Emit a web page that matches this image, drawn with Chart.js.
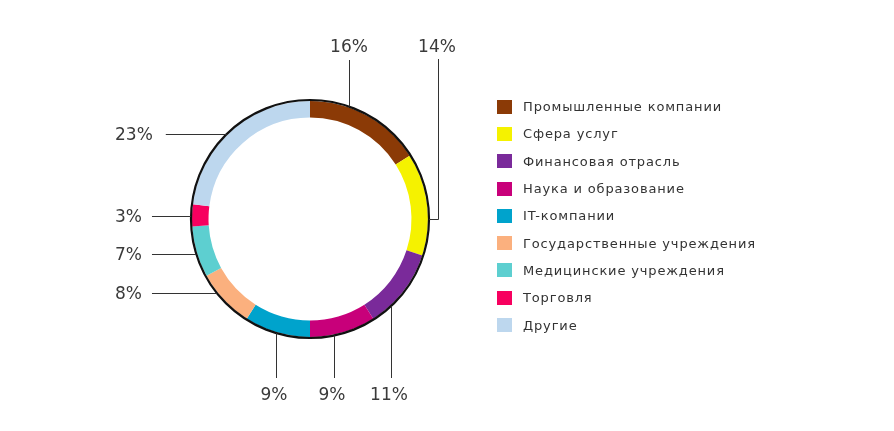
<!DOCTYPE html>
<html>
<head>
<meta charset="utf-8">
<script src="https://cdn.jsdelivr.net/npm/chart.js@4"></script>
<style>
  html, body { margin: 0; padding: 0; background: #fff; }
  #wrap { position: relative; width: 894px; height: 431px; }
  #legend { position: absolute; left: 497px; top: 93px; font-family: "DejaVu Sans", sans-serif; font-size: 13px; color: #333; letter-spacing: 0.85px; }
  #legend .item { height: 27.3px; display: flex; align-items: center; }
  #legend .box { width: 15px; height: 14px; margin-right: 11px; }
</style>
</head>
<body>
<div id="wrap">
  <canvas id="doughnutChart" width="894" height="431"></canvas>
  <div id="legend"></div>
</div>
<script>
    // Data
    var labels = ['Промышленные компании', 'Сфера услуг', 'Финансовая отрасль', 'Наука и образование',
      'IT-компании', 'Государственные учреждения', 'Медицинские учреждения', 'Торговля', 'Другие'];
    var values = [16, 14, 11, 9, 9, 8, 7, 3, 23];
    var colors = ['#8B3A06', '#F5F200', '#7A2A9A', '#C8007A', '#00A3CC', '#FBB07E', '#5DCFD0', '#F7005F', '#BDD7EE'];

    // where each percent label sits, relative to ring centre, and how its line runs
    var leaderLayout = [
      { dx: 39, dy: -171, dir: 'up' },
      { dx: 127, dy: -171, dir: 'elbow' },
      { dx: 79, dy: 177, dir: 'down' },
      { dx: 22, dy: 177, dir: 'down' },
      { dx: -36, dy: 177, dir: 'down' },
      { dx: -195, dy: 76, dir: 'left' },
      { dx: -195, dy: 37, dir: 'left' },
      { dx: -195, dy: -1, dir: 'left' },
      { dx: -195, dy: -83, dir: 'left' }
    ];

    var leaderPlugin = {
      id: 'leaders',
      afterDatasetsDraw: function (chart) {
        var ctx = chart.ctx;
        var arc = chart.getDatasetMeta(0).data[0];
        var cx = arc.x, cy = arc.y, R = arc.outerRadius + 1;
        ctx.save();
        // outer black rim
        ctx.beginPath();
        ctx.arc(cx, cy, R, 0, Math.PI * 2);
        ctx.lineWidth = 2.2;
        ctx.strokeStyle = '#111';
        ctx.stroke();

        ctx.font = '17px "DejaVu Sans"';
        ctx.fillStyle = '#3a3a3a';
        ctx.strokeStyle = '#333';
        ctx.lineWidth = 1;
        values.forEach(function (v, i) {
          var l = leaderLayout[i];
          var text = v + '%';
          var tx = cx + l.dx, ty = cy + l.dy;
          var w = ctx.measureText(text).width;
          ctx.textBaseline = 'middle';
          ctx.beginPath();
          if (l.dir === 'left') {
            ctx.textAlign = 'left';
            var ly = ty - 2;
            var ex = cx - Math.sqrt(R * R - (ly - cy) * (ly - cy));
            ctx.moveTo(tx + w + (i === 8 ? 13 : 10), ly + 0.5);
            ctx.lineTo(ex, ly + 0.5);
          } else if (l.dir === 'up') {
            ctx.textAlign = 'center';
            var ey = cy - Math.sqrt(R * R - (tx - cx) * (tx - cx));
            ctx.moveTo(tx + 0.5, ty + 12);
            ctx.lineTo(tx + 0.5, ey);
          } else if (l.dir === 'down') {
            ctx.textAlign = 'center';
            var lx = tx + 2;
            var ey2 = cy + Math.sqrt(R * R - (lx - cx) * (lx - cx));
            ctx.moveTo(lx + 0.5, ty - 18);
            ctx.lineTo(lx + 0.5, ey2);
          } else {
            ctx.textAlign = 'center';
            ctx.moveTo(tx + 1.5, ty + 11);
            ctx.lineTo(tx + 1.5, cy + 0.5);
            ctx.lineTo(cx + R, cy + 0.5);
          }
          ctx.stroke();
          ctx.fillText(text, tx, ty);
        });
        ctx.restore();
      }
    };

    var doughnutChart = new Chart(document.getElementById('doughnutChart'), {
      type: 'doughnut',
      data: {
        labels: labels,
        datasets: [{
          data: values,
          backgroundColor: colors,
          borderWidth: 0
        }]
      },
      options: {
        responsive: false,
        animation: false,
        cutout: '86%',
        layout: { padding: { left: 192, right: 466, top: 101, bottom: 94 } },
        plugins: {
          legend: { display: false },
          tooltip: { enabled: false }
        }
      },
      plugins: [leaderPlugin]
    });

    // Legend
    var legendEl = document.getElementById('legend');
    labels.forEach(function (name, i) {
      var row = document.createElement('div');
      row.className = 'item';
      row.innerHTML = '<span class="box" style="background:' + colors[i] + '"></span><span>' + name + '</span>';
      legendEl.appendChild(row);
    });
</script>
</body>
</html>
